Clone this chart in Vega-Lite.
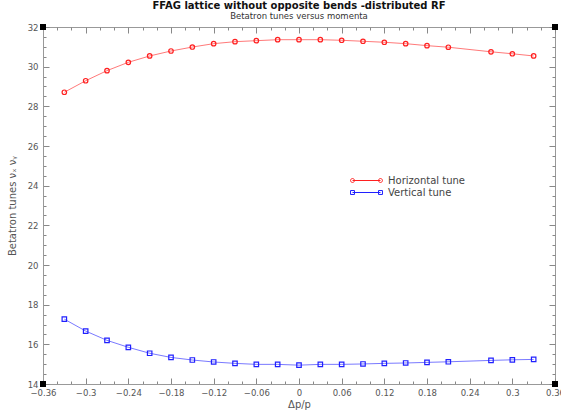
{
  "$schema": "https://vega.github.io/schema/vega-lite/v6.json",
  "width": 512,
  "height": 357,
  "autosize": {"type": "none"},
  "padding": {"left": 43, "top": 27, "right": 6, "bottom": 28},
  "background": "white",
  "title": {
    "text": "FFAG lattice without opposite bends -distributed RF",
    "subtitle": "Betatron tunes versus momenta",
    "font": "DejaVu Sans",
    "fontSize": 10,
    "fontWeight": "bold",
    "color": "#111",
    "subtitleFont": "DejaVu Sans",
    "subtitleFontSize": 8.5,
    "subtitleColor": "#333",
    "subtitlePadding": 1,
    "offset": 3,
    "anchor": "middle"
  },
  "config": {
    "view": {"stroke": "#999", "strokeWidth": 1},
    "axis": {
      "domainColor": "#999",
      "tickColor": "#888",
      "labelFont": "DejaVu Sans",
      "labelFontSize": 8.5,
      "labelColor": "#555",
      "titleFont": "DejaVu Sans",
      "titleFontSize": 10,
      "titleFontWeight": "normal",
      "titleColor": "#555",
      "grid": false
    }
  },
  "datasets": {
    "tunes": [
      {"dp": -0.33, "tune": 28.71, "series": "Horizontal tune"},
      {"dp": -0.30, "tune": 29.29, "series": "Horizontal tune"},
      {"dp": -0.27, "tune": 29.80, "series": "Horizontal tune"},
      {"dp": -0.24, "tune": 30.22, "series": "Horizontal tune"},
      {"dp": -0.21, "tune": 30.54, "series": "Horizontal tune"},
      {"dp": -0.18, "tune": 30.79, "series": "Horizontal tune"},
      {"dp": -0.15, "tune": 30.99, "series": "Horizontal tune"},
      {"dp": -0.12, "tune": 31.16, "series": "Horizontal tune"},
      {"dp": -0.09, "tune": 31.26, "series": "Horizontal tune"},
      {"dp": -0.06, "tune": 31.31, "series": "Horizontal tune"},
      {"dp": -0.03, "tune": 31.36, "series": "Horizontal tune"},
      {"dp": 0.0, "tune": 31.36, "series": "Horizontal tune"},
      {"dp": 0.03, "tune": 31.36, "series": "Horizontal tune"},
      {"dp": 0.06, "tune": 31.33, "series": "Horizontal tune"},
      {"dp": 0.09, "tune": 31.28, "series": "Horizontal tune"},
      {"dp": 0.12, "tune": 31.23, "series": "Horizontal tune"},
      {"dp": 0.15, "tune": 31.16, "series": "Horizontal tune"},
      {"dp": 0.18, "tune": 31.06, "series": "Horizontal tune"},
      {"dp": 0.21, "tune": 30.98, "series": "Horizontal tune"},
      {"dp": 0.27, "tune": 30.75, "series": "Horizontal tune"},
      {"dp": 0.30, "tune": 30.65, "series": "Horizontal tune"},
      {"dp": 0.33, "tune": 30.54, "series": "Horizontal tune"},
      {"dp": -0.33, "tune": 17.27, "series": "Vertical tune"},
      {"dp": -0.30, "tune": 16.67, "series": "Vertical tune"},
      {"dp": -0.27, "tune": 16.20, "series": "Vertical tune"},
      {"dp": -0.24, "tune": 15.85, "series": "Vertical tune"},
      {"dp": -0.21, "tune": 15.55, "series": "Vertical tune"},
      {"dp": -0.18, "tune": 15.34, "series": "Vertical tune"},
      {"dp": -0.15, "tune": 15.21, "series": "Vertical tune"},
      {"dp": -0.12, "tune": 15.11, "series": "Vertical tune"},
      {"dp": -0.09, "tune": 15.04, "series": "Vertical tune"},
      {"dp": -0.06, "tune": 14.99, "series": "Vertical tune"},
      {"dp": -0.03, "tune": 14.99, "series": "Vertical tune"},
      {"dp": 0.0, "tune": 14.95, "series": "Vertical tune"},
      {"dp": 0.03, "tune": 14.99, "series": "Vertical tune"},
      {"dp": 0.06, "tune": 14.99, "series": "Vertical tune"},
      {"dp": 0.09, "tune": 15.01, "series": "Vertical tune"},
      {"dp": 0.12, "tune": 15.04, "series": "Vertical tune"},
      {"dp": 0.15, "tune": 15.06, "series": "Vertical tune"},
      {"dp": 0.18, "tune": 15.09, "series": "Vertical tune"},
      {"dp": 0.21, "tune": 15.12, "series": "Vertical tune"},
      {"dp": 0.27, "tune": 15.19, "series": "Vertical tune"},
      {"dp": 0.30, "tune": 15.22, "series": "Vertical tune"},
      {"dp": 0.33, "tune": 15.24, "series": "Vertical tune"}
    ],
    "corners": [
      {"dp": -0.36, "tune": 14},
      {"dp": 0.36, "tune": 14},
      {"dp": -0.36, "tune": 32},
      {"dp": 0.36, "tune": 32}
    ]
  },
  "layer": [
    {
      "data": {"name": "tunes"},
      "mark": {"type": "line", "strokeWidth": 1, "opacity": 0.6},
      "encoding": {
        "x": {
          "field": "dp", "type": "quantitative",
          "scale": {"domain": [-0.36, 0.36], "nice": false, "zero": false},
          "axis": {
            "orient": "bottom",
            "title": "Δp/p",
            "titlePadding": 3,
            "values": [-0.36,-0.34,-0.32,-0.3,-0.28,-0.26,-0.24,-0.22,-0.2,-0.18,-0.16,-0.14,-0.12,-0.1,-0.08,-0.06,-0.04,-0.02,0,0.02,0.04,0.06,0.08,0.1,0.12,0.14,0.16,0.18,0.2,0.22,0.24,0.26,0.28,0.3,0.32,0.34,0.36],
            "labelExpr": "abs(round(datum.value*100)) % 6 == 0 ? format(datum.value, '~g') : ''",
            "tickSize": {"condition": {"test": "abs(round(datum.value*100)) % 6 == 0", "value": -6}, "value": -3},
            "labelPadding": 10,
            "labelFlush": false
          }
        },
        "y": {
          "field": "tune", "type": "quantitative",
          "scale": {"domain": [14, 32], "nice": false, "zero": false},
          "axis": {
            "orient": "left",
            "title": "Betatron tunes νₓ  νᵧ",
            "titlePadding": 10,
            "values": [14,14.5,15,15.5,16,16.5,17,17.5,18,18.5,19,19.5,20,20.5,21,21.5,22,22.5,23,23.5,24,24.5,25,25.5,26,26.5,27,27.5,28,28.5,29,29.5,30,30.5,31,31.5,32],
            "labelExpr": "datum.value % 2 == 0 ? format(datum.value, '~g') : ''",
            "tickSize": {"condition": {"test": "datum.value % 2 == 0", "value": -6}, "value": -3},
            "labelPadding": 11
          }
        },
        "color": {
          "field": "series", "type": "nominal",
          "scale": {"domain": ["Horizontal tune", "Vertical tune"], "range": ["#ff2020", "#2020ff"]},
          "legend": null
        }
      }
    },
    {
      "data": {"name": "tunes"},
      "mark": {"type": "point", "filled": false, "strokeWidth": 1.2, "size": 20, "opacity": 1},
      "encoding": {
        "x": {"field": "dp", "type": "quantitative", "axis": null},
        "y": {"field": "tune", "type": "quantitative", "axis": null},
        "color": {
          "field": "series", "type": "nominal",
          "scale": {"domain": ["Horizontal tune", "Vertical tune"], "range": ["#ff2020", "#2020ff"]},
          "legend": null
        },
        "shape": {
          "field": "series", "type": "nominal",
          "scale": {"domain": ["Horizontal tune", "Vertical tune"], "range": ["circle", "square"]},
          "legend": null
        }
      }
    },
    {
      "data": {"name": "tunes"},
      "transform": [{"filter": "false"}],
      "mark": {"type": "point", "filled": false, "strokeWidth": 1, "opacity": 1},
      "encoding": {
        "x": {"field": "dp", "type": "quantitative", "axis": null},
        "y": {"field": "tune", "type": "quantitative", "axis": null},
        "color": {
          "field": "series", "type": "nominal",
          "scale": {"domain": ["Horizontal tune", "Vertical tune"], "range": ["#ff2020", "#2020ff"]},
          "legend": {
            "orient": "none",
            "legendX": 317,
            "legendY": 147,
            "title": null,
            "padding": 0,
            "symbolSize": 144,
            "symbolStrokeWidth": 1,
            "labelFont": "DejaVu Sans",
            "labelFontSize": 10,
            "labelColor": "#444",
            "labelOffset": 15,
            "rowPadding": 0
          }
        },
        "shape": {
          "field": "series", "type": "nominal",
          "scale": {
            "domain": ["Horizontal tune", "Vertical tune"],
            "range": [
              "M-2.33,0L2.33,0M-2,0A0.33,0.33,0,1,1,-2.66,0A0.33,0.33,0,1,1,-2,0M2.66,0A0.33,0.33,0,1,1,2,0A0.33,0.33,0,1,1,2.66,0",
              "M-2.33,0L2.33,0M-2.66,-0.33H-2V0.33H-2.66ZM2,-0.33H2.66V0.33H2Z"
            ]
          },
          "legend": {
            "orient": "none",
            "legendX": 317,
            "legendY": 147,
            "title": null,
            "padding": 0,
            "symbolSize": 144,
            "symbolStrokeWidth": 1,
            "labelFont": "DejaVu Sans",
            "labelFontSize": 10,
            "labelColor": "#444",
            "labelOffset": 15,
            "rowPadding": 0
          }
        }
      }
    },
    {
      "data": {"name": "corners"},
      "mark": {"type": "point", "shape": "square", "filled": true, "color": "black", "size": 36, "opacity": 1},
      "encoding": {
        "x": {
          "field": "dp", "type": "quantitative",
          "axis": {
            "orient": "top",
            "title": null,
            "labels": false,
            "domain": false,
            "values": [-0.36,-0.34,-0.32,-0.3,-0.28,-0.26,-0.24,-0.22,-0.2,-0.18,-0.16,-0.14,-0.12,-0.1,-0.08,-0.06,-0.04,-0.02,0,0.02,0.04,0.06,0.08,0.1,0.12,0.14,0.16,0.18,0.2,0.22,0.24,0.26,0.28,0.3,0.32,0.34,0.36],
            "tickSize": {"condition": {"test": "abs(round(datum.value*100)) % 6 == 0", "value": -6}, "value": -3}
          }
        },
        "y": {
          "field": "tune", "type": "quantitative",
          "axis": {
            "orient": "right",
            "title": null,
            "labels": false,
            "domain": false,
            "values": [14,14.5,15,15.5,16,16.5,17,17.5,18,18.5,19,19.5,20,20.5,21,21.5,22,22.5,23,23.5,24,24.5,25,25.5,26,26.5,27,27.5,28,28.5,29,29.5,30,30.5,31,31.5,32],
            "tickSize": {"condition": {"test": "datum.value % 2 == 0", "value": -6}, "value": -3}
          }
        }
      }
    }
  ],
  "resolve": {
    "scale": {"shape": "independent", "color": "independent"},
    "axis": {"x": "independent", "y": "independent"},
    "legend": {"shape": "independent", "color": "independent"}
  }
}
